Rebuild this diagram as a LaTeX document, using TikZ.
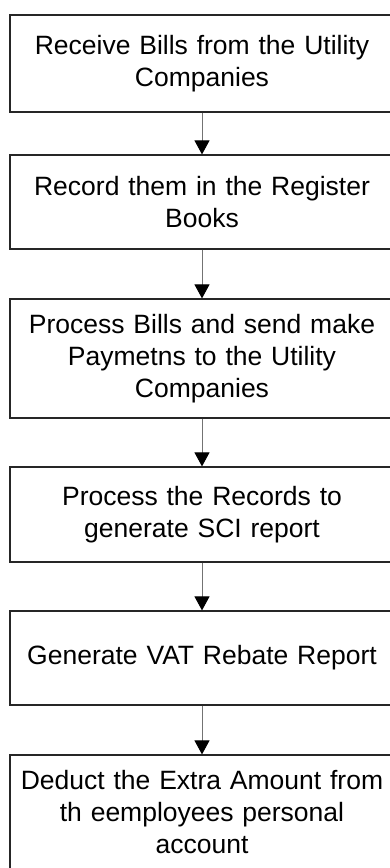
\documentclass[tikz,border=0pt]{standalone}
\usepackage{fontspec}
\setmainfont{Liberation Sans}
\usetikzlibrary{arrows.meta}
\begin{document}
\begin{tikzpicture}[x=1pt,y=-1pt,
  stepbox/.style={draw=black!85, line width=1.2pt, rectangle,
    minimum width=384pt, text width=380pt, align=center, inner sep=0pt,
    font=\fontsize{26.5}{32}\selectfont},
  flow/.style={draw=black!55, line width=1pt,
    -{Triangle[width=15pt,length=14pt,color=black]}}]
\useasboundingbox (0,0) rectangle (390,868);
\fill[white] (0,0) rectangle (390,868);
\clip (0,0) rectangle (390,868);

% process steps, top to bottom
\node[stepbox, minimum height=97pt]  (s1) at (202,63.5)  {Receive Bills from the Utility\\Companies};
\node[stepbox, minimum height=94pt]  (s2) at (202,202)   {Record them in the Register\\Books};
\node[stepbox, minimum height=119pt] (s3) at (202,358.5) {Process Bills and send make\\Paymetns to the Utility\\Companies};
\node[stepbox, minimum height=95pt]  (s4) at (202,514.5) {Process the Records to\\generate SCI report};
\node[stepbox, minimum height=94pt]  (s5) at (202,658)   {Generate VAT Rebate Report};
\node[stepbox, minimum height=114pt] (s6) at (202,812)   {Deduct the Extra Amount from\\th eemployees personal\\account};

% connectors
\draw[flow] (s1.south) -- (s2.north);
\draw[flow] (s2.south) -- (s3.north);
\draw[flow] (s3.south) -- (s4.north);
\draw[flow] (s4.south) -- (s5.north);
\draw[flow] (s5.south) -- (s6.north);
\end{tikzpicture}
\end{document}
